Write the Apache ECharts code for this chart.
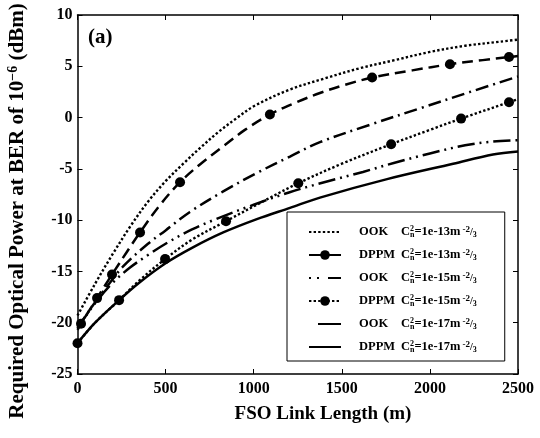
<!DOCTYPE html>
<html><head><meta charset="utf-8">
<script src="https://cdn.jsdelivr.net/npm/echarts@6/dist/echarts.min.js"></script>
<style>html,body{margin:0;padding:0;background:#fff}#c{width:540px;height:438px}</style>
</head><body><div id="c"></div>
<script>
// ---- data ----
const xTicks = [0, 500, 1000, 1500, 2000, 2500];
const yTicks = [-25, -20, -15, -10, -5, 0, 5, 10];

const ook13X = [0, 100, 200, 300, 400, 500, 600, 700, 800, 900, 1000, 1200, 1400, 1600, 1800, 2000, 2200, 2400, 2500];
const ook13Y = [-19.3, -16.2, -13.3, -10.6, -8.2, -6.2, -4.5, -2.9, -1.4, -0.1, 1.1, 2.7, 3.8, 4.8, 5.6, 6.4, 7.0, 7.4, 7.6];

const dppm13X = [0, 20, 111, 196, 280, 355, 460, 582, 700, 827, 950, 1092, 1230, 1376, 1520, 1672, 1900, 2114, 2300, 2449, 2500];
const dppm13Y = [-20.7, -20.1, -17.6, -15.3, -13.1, -11.2, -8.7, -6.3, -4.5, -2.8, -1.2, 0.3, 1.4, 2.4, 3.2, 3.9, 4.6, 5.2, 5.6, 5.9, 6.0];
const dppm13Marks = [20, 111, 196, 355, 582, 1092, 1672, 2114, 2449];

const ook15X = [0, 100, 184, 259, 400, 500, 638, 827, 1018, 1206, 1376, 1660, 1944, 2228, 2500];
const ook15Y = [-20.5, -18.0, -16.1, -14.5, -12.3, -11.0, -9.2, -7.2, -5.4, -3.8, -2.4, -0.7, 0.9, 2.5, 4.0];

const dppm15X = [0, 100, 236, 350, 497, 650, 843, 1050, 1253, 1500, 1780, 2000, 2177, 2449, 2500];
const dppm15Y = [-22.0, -20.0, -17.8, -15.9, -13.8, -11.9, -10.1, -8.2, -6.4, -4.5, -2.6, -1.2, -0.1, 1.5, 1.8];
const dppm15Marks = [0, 236, 497, 843, 1253, 1780, 2177, 2449];

const ook17X = [0, 100, 200, 300, 400, 500, 650, 800, 1000, 1200, 1400, 1620, 1800, 2000, 2200, 2350, 2500];
const ook17Y = [-20.5, -18.1, -16.1, -14.6, -13.4, -12.3, -10.9, -9.8, -8.5, -7.3, -6.3, -5.3, -4.4, -3.5, -2.7, -2.35, -2.2];

const dppm17X = [0, 100, 236, 350, 500, 650, 827, 1018, 1206, 1376, 1757, 2132, 2358, 2500];
const dppm17Y = [-22.0, -20.0, -17.8, -16.1, -14.2, -12.7, -11.2, -9.9, -8.8, -7.8, -6.0, -4.5, -3.6, -3.3];

const seriesNames = ['OOK 13', 'DPPM 13', 'OOK 15', 'DPPM 15', 'OOK 17', 'DPPM 17'];
const legendMod = ['OOK', 'DPPM', 'OOK', 'DPPM', 'OOK', 'DPPM'];
const legendExp = ['1e-13', '1e-13', '1e-15', '1e-15', '1e-17', '1e-17'];
const legendHasMarker = [false, true, false, true, false, false];

// ---- chart ----
const FONT = 'Liberation Serif';
const DOT = [2.4, 2.2];
const legendLineTypes = [DOT, 'solid', [2, 6, 2, 9, 13, 60], DOT, [0, 9, 23, 60], 'solid'];

function mk(name, xs, ys, dash, width, marks, z) {
  return {
    name: name, type: 'line', smooth: 0.35, z: z,
    symbol: marks ? 'circle' : 'none', symbolSize: 10,
    itemStyle: { color: '#000' },
    lineStyle: { color: '#000', width: width, type: dash },
    emphasis: { disabled: true },
    data: xs.map((x, i) => ({ value: [x, ys[i]], symbol: (marks && marks.includes(x)) ? 'circle' : 'none' }))
  };
}
const series = [
  mk(seriesNames[0], ook13X, ook13Y, DOT, 2.4, null, 2),
  mk(seriesNames[1], dppm13X, dppm13Y, [11, 6], 2.5, dppm13Marks, 3),
  mk(seriesNames[2], ook15X, ook15Y, [13, 5, 2, 5], 2.5, null, 2),
  mk(seriesNames[3], dppm15X, dppm15Y, DOT, 2.4, dppm15Marks, 3),
  mk(seriesNames[4], ook17X, ook17Y, [17, 5, 2, 5, 2, 5], 2.5, null, 2),
  mk(seriesNames[5], dppm17X, dppm17Y, 'solid', 2.5, null, 2)
];

const axisCommon = {
  axisLine: { onZero: false, lineStyle: { color: '#000', width: 1.5 } },
  axisTick: { inside: true, length: 5, lineStyle: { color: '#000', width: 1 } },
  splitLine: { show: false }
};
const tickLabel = { color: '#000', fontFamily: FONT, fontWeight: 'bold', fontSize: 16, formatter: v => String(v) };

const legendRich = {
  k: { fontFamily: FONT, fontWeight: 'bold', fontSize: 12.5, width: 42, lineHeight: 14, padding: [0, 0, 0, 13] },
  c: { fontFamily: FONT, fontWeight: 'bold', fontSize: 12.5, lineHeight: 14 },
  sup: { fontFamily: FONT, fontWeight: 'bold', fontSize: 8, lineHeight: 14, verticalAlign: 'top', width: 0, align: 'left' },
  sub: { fontFamily: FONT, fontWeight: 'bold', fontSize: 8, lineHeight: 14, verticalAlign: 'bottom' },
  sup2: { fontFamily: FONT, fontWeight: 'bold', fontSize: 9, lineHeight: 14, verticalAlign: 'top', padding: [0, 0, 0, 2] },
  sl: { fontFamily: FONT, fontWeight: 'bold', fontSize: 10, lineHeight: 14 }
};

const option = {
  animation: false,
  backgroundColor: '#fff',
  grid: { left: 77.5, right: 22, top: 15, bottom: 64 },
  xAxis: [
    Object.assign({ type: 'value', min: xTicks[0], max: xTicks[xTicks.length - 1], interval: 500, position: 'bottom',
      axisLabel: Object.assign({ margin: 7 }, tickLabel) }, axisCommon),
    Object.assign({ type: 'value', min: xTicks[0], max: xTicks[xTicks.length - 1], interval: 500, position: 'top',
      axisLabel: { show: false } }, axisCommon)
  ],
  yAxis: [
    Object.assign({ type: 'value', min: yTicks[0], max: yTicks[yTicks.length - 1], interval: 5, position: 'left',
      axisLabel: Object.assign({ margin: 5 }, tickLabel) }, axisCommon),
    Object.assign({ type: 'value', min: yTicks[0], max: yTicks[yTicks.length - 1], interval: 5, position: 'right',
      axisLabel: { show: false } }, axisCommon)
  ],
  legend: {
    orient: 'vertical', left: 287, top: 212,
    padding: [13, 28, 7, 21], itemGap: 9, itemWidth: 32, itemHeight: 12,
    backgroundColor: '#fff', borderColor: '#000', borderWidth: 1,
    data: seriesNames.map((n, i) => {
      const d = { name: n, lineStyle: { type: legendLineTypes[i] } };
      if (!legendHasMarker[i]) d.itemStyle = { opacity: 0 };
      return d;
    }),
    selectedMode: false,
    textStyle: { color: '#000', rich: legendRich },
    formatter: function (name) {
      const i = seriesNames.indexOf(name);
      return '{k|' + legendMod[i] + '}{c|C}{sup|2}{sub|n}{c|=' + legendExp[i] + 'm}{sup2|-2}{sl|/}{sub|3}';
    }
  },
  graphic: [
    { type: 'text', left: 88, top: 27, style: { text: '(a)', fill: '#000', font: 'bold 21px "Liberation Serif"' } },
    { type: 'text', x: 323, y: 414, style: { text: 'FSO Link Length (m)', fill: '#000', align: 'center', verticalAlign: 'middle', font: 'bold 19px "Liberation Serif"' } },
    { type: 'text', x: 18, y: 211, rotation: Math.PI / 2,
      style: { text: 'Required Optical Power at BER of 10{s|−6} (dBm)', fill: '#000', align: 'center', verticalAlign: 'middle',
        font: 'bold 21px "Liberation Serif"',
        rich: { s: { fontFamily: FONT, fontWeight: 'bold', fontSize: 14, verticalAlign: 'top', lineHeight: 24 } } } }
  ],
  series: series
};
const chart = echarts.init(document.getElementById('c'), null, { renderer: 'canvas' });
chart.setOption(option);
</script></body></html>
